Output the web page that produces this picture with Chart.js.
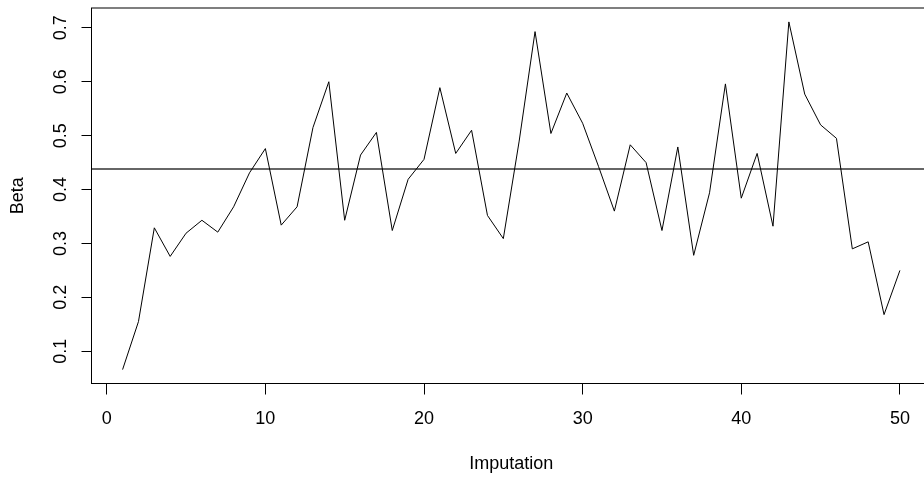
<!DOCTYPE html>
<html>
<head>
<meta charset="utf-8">
<script src="https://cdn.jsdelivr.net/npm/chart.js@4/dist/chart.umd.min.js"></script>
<style>
  html, body { margin: 0; padding: 0; background: #fff; overflow: hidden; }
  #wrap { width: 924px; height: 478px; overflow: hidden; }
</style>
</head>
<body>
<div id="wrap"><canvas id="betaChart" width="940" height="478"></canvas></div>
<script>
const imputation = [
  1, 2, 3, 4, 5, 6, 7, 8, 9, 10,
  11, 12, 13, 14, 15, 16, 17, 18, 19, 20,
  21, 22, 23, 24, 25, 26, 27, 28, 29, 30,
  31, 32, 33, 34, 35, 36, 37, 38, 39, 40,
  41, 42, 43, 44, 45, 46, 47, 48, 49, 50
];
const beta = [
  0.066, 0.155, 0.329, 0.276, 0.319, 0.343, 0.321, 0.368, 0.431, 0.476,
  0.334, 0.368, 0.515, 0.600, 0.343, 0.464, 0.506, 0.324, 0.419, 0.456,
  0.589, 0.467, 0.510, 0.352, 0.309, 0.490, 0.693, 0.504, 0.579, 0.523,
  0.443, 0.360, 0.483, 0.450, 0.324, 0.479, 0.278, 0.394, 0.596, 0.384,
  0.467, 0.332, 0.711, 0.577, 0.520, 0.495, 0.290, 0.303, 0.168, 0.250
];
const refBeta = 0.438;
const xTicks = [0, 10, 20, 30, 40, 50];
const yTicks = [0.1, 0.2, 0.3, 0.4, 0.5, 0.6, 0.7];

// R style axis range: data range stretched by 4% on each side
const X_MIN = -0.96, X_MAX = 51.96;
const Y_MIN = 0.0402, Y_MAX = 0.7368;

const FONT_FAMILY = '"Liberation Sans", Arial, Helvetica, sans-serif';

const framePlugin = {
  id: 'frame',
  afterDraw(chart) {
    const { ctx, chartArea: a } = chart;
    ctx.save();
    ctx.strokeStyle = '#000';
    ctx.lineWidth = 1;
    ctx.strokeRect(a.left, a.top, a.right - a.left, a.bottom - a.top);
    ctx.restore();
  }
};

class BetaChart {
  constructor() {
    const ctx = document.getElementById('betaChart').getContext('2d');
    this.chart = this.drawChart(ctx);
  }

  toPoints() {
    return imputation.map((x, i) => ({ x, y: beta[i] }));
  }

  drawChart(ctx) {
    const tickFont = { family: FONT_FAMILY, size: 18 };
    return new Chart(ctx, {
      type: 'line',
      data: {
        datasets: [
          {
            data: this.toPoints(),
            borderColor: '#000',
            borderWidth: 1,
            pointRadius: 0,
            tension: 0,
            fill: false
          },
          {
            data: [{ x: X_MIN, y: refBeta }, { x: X_MAX, y: refBeta }],
            borderColor: '#333',
            borderWidth: 1.5,
            pointRadius: 0,
            fill: false
          }
        ]
      },
      options: {
        responsive: false,
        animation: false,
        devicePixelRatio: 1,
        layout: { padding: { top: 8, right: 9, bottom: 0, left: 0 } },
        plugins: { legend: { display: false }, tooltip: { enabled: false } },
        scales: {
          x: {
            type: 'linear',
            min: X_MIN,
            max: X_MAX,
            afterBuildTicks: (s) => { s.ticks = xTicks.map(v => ({ value: v })); },
            afterFit: (s) => { s.height = 94.5; s.paddingLeft = 0; s.paddingRight = 0; },
            ticks: { font: tickFont, color: '#000', padding: 14, maxRotation: 0, autoSkip: false },
            grid: { drawOnChartArea: false, drawTicks: true, tickLength: 11, color: '#000', lineWidth: 1 },
            border: { display: false },
            title: { display: true, text: 'Imputation', font: tickFont, color: '#000', padding: { top: 0, bottom: 3 } }
          },
          y: {
            min: Y_MIN,
            max: Y_MAX,
            afterBuildTicks: (s) => { s.ticks = yTicks.map(v => ({ value: v })); },
            afterFit: (s) => { s.width = 91.5; s.paddingTop = 0; s.paddingBottom = 0; },
            ticks: {
              font: tickFont,
              color: '#000',
              padding: 8,
              minRotation: 90,
              crossAlign: 'center',
              callback: (v) => v.toFixed(1)
            },
            grid: { drawOnChartArea: false, drawTicks: true, tickLength: 10, color: '#000', lineWidth: 1 },
            border: { display: false },
            title: { display: true, text: 'Beta', font: tickFont, color: '#000', padding: { top: 7.5, bottom: 0 } }
          }
        }
      },
      plugins: [framePlugin]
    });
  }
}

new BetaChart();
</script>
</body>
</html>
